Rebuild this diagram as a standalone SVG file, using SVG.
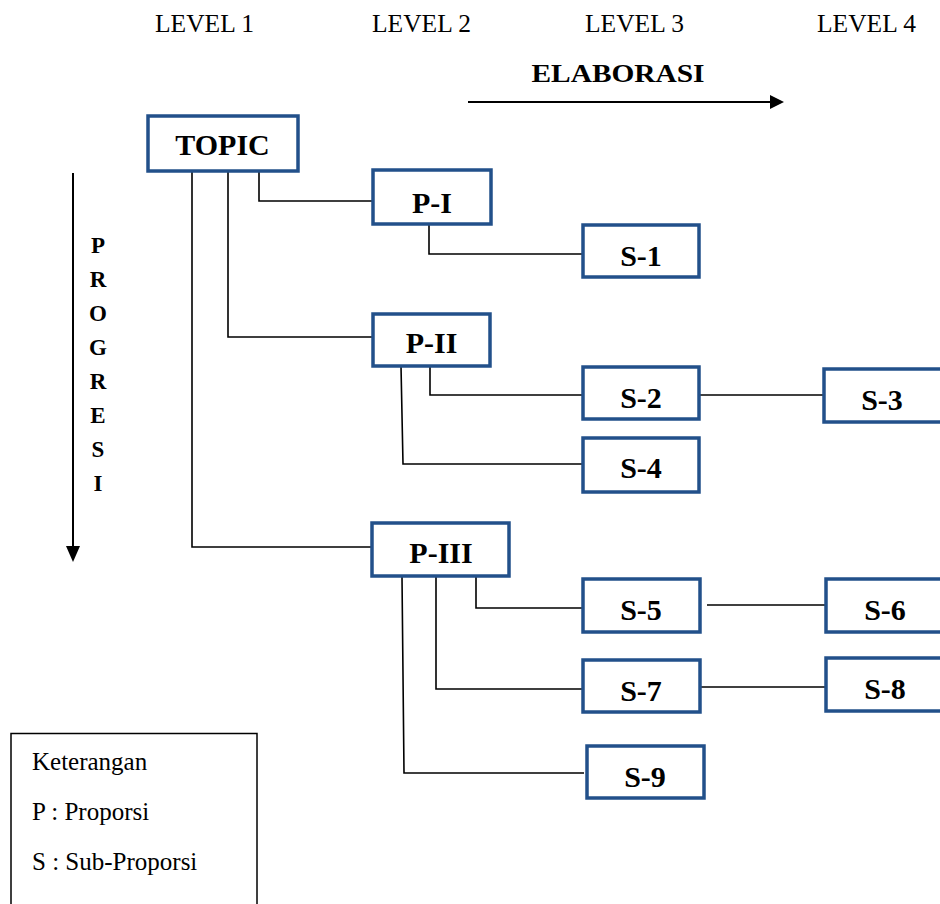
<svg xmlns="http://www.w3.org/2000/svg" width="940" height="904" viewBox="0 0 940 904">
<style>
.box{fill:#fff;stroke:#22508a;stroke-width:3.5}
.lbl{font-family:"Liberation Serif","Times New Roman",serif;font-weight:bold;font-size:30px;text-anchor:middle;fill:#000}
.lvl{font-family:"Liberation Serif","Times New Roman",serif;font-size:25.5px;fill:#000}
.leg{font-family:"Liberation Serif","Times New Roman",serif;font-size:25px;fill:#000}
.prog{font-family:"Liberation Serif","Times New Roman",serif;font-weight:bold;font-size:23px;text-anchor:middle;fill:#000}
.con{fill:none;stroke:#000;stroke-width:1.6}
.arr{fill:none;stroke:#000;stroke-width:2}
</style>
<defs>
<marker id="ah" viewBox="0 0 10 10" refX="9" refY="5" markerWidth="7" markerHeight="7.5" markerUnits="userSpaceOnUse" orient="auto">
<path d="M0,0 L10,5 L0,10 Z" fill="#000"/>
</marker>
</defs>
<rect width="940" height="904" fill="#fff"/>

<g id="levels">
<text class="lvl" x="155" y="32">LEVEL 1</text>
<text class="lvl" x="372" y="32">LEVEL 2</text>
<text class="lvl" x="585" y="32">LEVEL 3</text>
<text class="lvl" x="817" y="32">LEVEL 4</text>
</g>

<g id="elaborasi">
<text class="lbl" x="618" y="82" style="font-size:26px" textLength="173" lengthAdjust="spacingAndGlyphs">ELABORASI</text>
<line class="arr" x1="468" y1="102" x2="770" y2="102"/>
<path d="M770,95 L784,102 L770,109 Z" fill="#000"/>
</g>

<g id="progresi">
<line class="arr" x1="73" y1="173" x2="73" y2="547"/>
<path d="M66,546 L73,562 L80,546 Z" fill="#000"/>
<text class="prog" x="98" y="253">P</text>
<text class="prog" x="98" y="287">R</text>
<text class="prog" x="98" y="321">O</text>
<text class="prog" x="98" y="355">G</text>
<text class="prog" x="98" y="389">R</text>
<text class="prog" x="98" y="423">E</text>
<text class="prog" x="98" y="457">S</text>
<text class="prog" x="98" y="491">I</text>
</g>

<g id="connectors">
<polyline class="con" points="259,171 259,201 372,201"/>
<polyline class="con" points="228,171 228,337 372,337"/>
<polyline class="con" points="192,171 192,547 372,547"/>
<polyline class="con" points="429,224 429,254 582,254"/>
<polyline class="con" points="430,366 430,395 582,395"/>
<line class="con" x1="700" y1="395" x2="823" y2="395"/>
<polyline class="con" points="401,366 403,464 582,464"/>
<polyline class="con" points="476,577 476,608 582,608"/>
<line class="con" x1="707" y1="605" x2="825" y2="605"/>
<polyline class="con" points="436,577 436,689 582,689"/>
<line class="con" x1="701" y1="687" x2="825" y2="687"/>
<polyline class="con" points="402,577 404,773 584,773"/>
</g>

<g id="topic">
<rect class="box" x="148" y="116" width="150" height="55"/>
<text class="lbl" x="222.5" y="155">TOPIC</text>
</g>
<g id="p1">
<rect class="box" x="373" y="170" width="118" height="54"/>
<text class="lbl" x="432" y="213">P-I</text>
</g>
<g id="s1">
<rect class="box" x="583" y="225" width="116" height="52"/>
<text class="lbl" x="641" y="266">S-1</text>
</g>
<g id="p2">
<rect class="box" x="373" y="314" width="117" height="52"/>
<text class="lbl" x="431.5" y="353">P-II</text>
</g>
<g id="s2">
<rect class="box" x="583" y="367" width="116" height="52"/>
<text class="lbl" x="641" y="408">S-2</text>
</g>
<g id="s3">
<rect class="box" x="824" y="369" width="120" height="53"/>
<text class="lbl" x="882" y="410">S-3</text>
</g>
<g id="s4">
<rect class="box" x="583" y="438" width="116" height="54"/>
<text class="lbl" x="641" y="478">S-4</text>
</g>
<g id="p3">
<rect class="box" x="372" y="523" width="137" height="53"/>
<text class="lbl" x="441" y="563">P-III</text>
</g>
<g id="s5">
<rect class="box" x="583" y="579" width="117" height="53"/>
<text class="lbl" x="641" y="620">S-5</text>
</g>
<g id="s6">
<rect class="box" x="826" y="579" width="120" height="53"/>
<text class="lbl" x="885" y="620">S-6</text>
</g>
<g id="s7">
<rect class="box" x="583" y="660" width="117" height="52"/>
<text class="lbl" x="641" y="701">S-7</text>
</g>
<g id="s8">
<rect class="box" x="826" y="658" width="120" height="53"/>
<text class="lbl" x="885" y="699">S-8</text>
</g>
<g id="s9">
<rect class="box" x="587" y="746" width="117" height="52"/>
<text class="lbl" x="645" y="787">S-9</text>
</g>

<g id="legend">
<rect x="11" y="733.5" width="246" height="180" fill="none" stroke="#000" stroke-width="1.5"/>
<text class="leg" x="32" y="770">Keterangan</text>
<text class="leg" x="32" y="820">P : Proporsi</text>
<text class="leg" x="32" y="870">S : Sub-Proporsi</text>
</g>
</svg>
